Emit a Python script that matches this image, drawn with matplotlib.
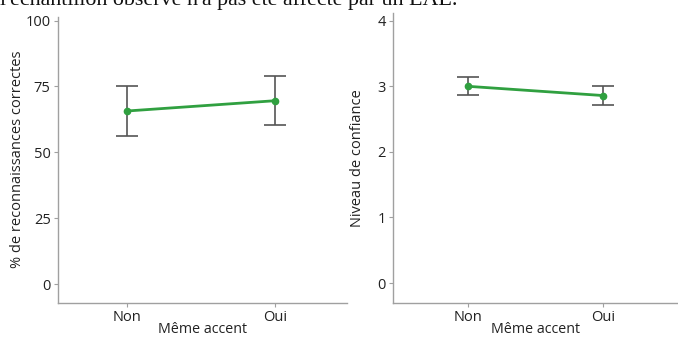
import matplotlib.pyplot as plt

# data
categories = ['Non', 'Oui']
pct_mean = [65.7, 69.6]
pct_err = [9.6, 9.4]
conf_mean = [3.0, 2.86]
conf_err = [0.135, 0.145]

xlabel = 'Même accent'
ylabel_left = '% de reconnaissances correctes'
ylabel_right = 'Niveau de confiance'
header = "l'échantillon observé n'a pas été affecté par un EAE."

plt.rcParams['font.family'] = ['Open Sans', 'DejaVu Sans']

green = '#30a040'
errc = '#555555'
spinec = '#a0a0a0'
txtc = '#222222'

fig = plt.figure(figsize=(6.78, 3.45), dpi=100)
ax1 = fig.add_axes([0.085, 0.1226, 0.427, 0.829])
ax2 = fig.add_axes([0.579, 0.1226, 0.421, 0.840])

x = list(range(len(categories)))


def style(ax):
    for s in ['top', 'right']:
        ax.spines[s].set_visible(False)
    for s in ['left', 'bottom']:
        ax.spines[s].set_color(spinec)
        ax.spines[s].set_linewidth(1.0)
    ax.tick_params(colors=spinec, labelcolor=txtc, labelsize=10.5, length=3, width=0.8, pad=2)
    ax.set_xticks(x)
    ax.set_xticklabels(categories)
    ax.set_xlabel(xlabel, fontsize=10.3, color=txtc, labelpad=-2)


ax1.errorbar(x, pct_mean, yerr=pct_err, color=errc, lw=0, elinewidth=1.2,
             capsize=8, capthick=1.2, zorder=2)
ax1.plot(x, pct_mean, color=green, lw=2, marker='o', ms=4.5, zorder=3)
ax1.set_xlim(-0.471, 1.487)
ax1.set_ylim(-7.1, 101.5)
ax1.set_yticks([0, 25, 50, 75, 100])
ax1.set_ylabel(ylabel_left, fontsize=10.5, color=txtc)
style(ax1)
ax1.yaxis.set_label_coords(-0.113, 0.5)

ax2.errorbar(x, conf_mean, yerr=conf_err, color=errc, lw=0, elinewidth=1.2,
             capsize=8, capthick=1.2, zorder=2)
ax2.plot(x, conf_mean, color=green, lw=2, marker='o', ms=4.5, zorder=3)
ax2.set_xlim(-0.5625, 1.56)
ax2.set_ylim(-0.3, 4.12)
ax2.set_yticks([0, 1, 2, 3, 4])
ax2.set_ylabel(ylabel_right, fontsize=10.5, color=txtc)
style(ax2)
ax2.yaxis.set_label_coords(-0.097, 0.5)

fig.text(0.0, 1 - 5 / 345, header, fontsize=15.8, family='Liberation Serif',
         color='#111111', va='baseline', ha='left')

fig.savefig('out.png', dpi=100)
